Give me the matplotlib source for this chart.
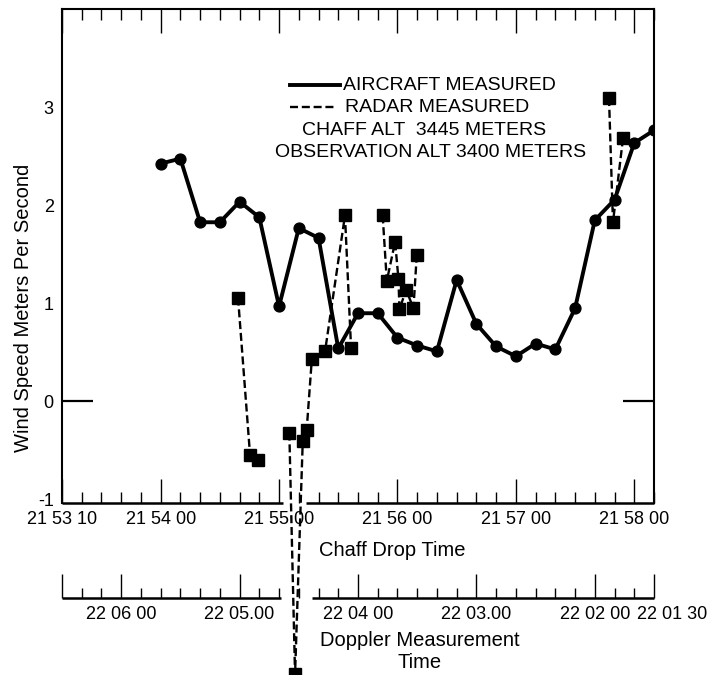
import numpy as np
import matplotlib
matplotlib.use("Agg")
import matplotlib.pyplot as plt
import matplotlib.transforms as mtransforms
from matplotlib.ticker import FixedLocator, FixedFormatter

plt.rcParams['font.family'] = ['Liberation Sans', 'DejaVu Sans']

# Time axis: seconds after 21:53:10 (chaff drop clock)
aircraft_time = [50, 60, 70, 80, 90, 100, 110, 120, 130, 140, 150, 160, 170,
                 180, 190, 200, 210, 220, 230, 240, 250, 260, 270, 280, 290, 300]
aircraft_speed = [2.43, 2.48, 1.83, 1.83, 2.04, 1.88, 0.97, 1.77, 1.67, 0.54,
                  0.90, 0.90, 0.65, 0.57, 0.51, 1.24, 0.79, 0.56, 0.46, 0.59,
                  0.53, 0.95, 1.85, 2.06, 2.64, 2.77]

radar_time = [89.2, 95.3, 99.2,
              115.2, 118.1, 122.0, 124.0, 126.6, 133.3, 143.4, 146.5,
              162.5, 164.6, 168.8, 170.5, 171.0, 174.4, 178.1, 179.8,
              277.2, 279.2, 284.3]
radar_speed = [1.06, -0.55, -0.60,
               -0.32, -2.79, -0.41, -0.29, 0.43, 0.51, 1.90, 0.54,
               1.90, 1.23, 1.63, 1.25, 0.94, 1.14, 0.95, 1.50,
               3.10, 1.83, 2.69]
radar_track = [0, 0, 0,
               1, 1, 1, 1, 1, 1, 1, 1,
               2, 2, 2, 2, 2, 2, 2, 2,
               3, 3, 3]

chaff_major = [0, 50, 110, 170, 230, 290]
chaff_labels = ["21 53 10", "21 54 00", "21 55 00", "21 56 00", "21 57 00", "21 58 00"]
doppler_major = [0, 30, 90, 150, 210, 270, 300]
doppler_labels = ["", "22 06 00", "22 05.00", "22 04 00", "22 03.00", "22 02 00", ""]
doppler_end_label = "22 01 30"
speed_ticks = [-1, 0, 1, 2, 3]
speed_labels = ["-1", "0", "1", "2", "3"]

W, H = 714, 675
fig = plt.figure(figsize=(W / 100, H / 100), dpi=100)

ax_l, ax_r, ax_b, ax_t = 62, 654, 503, 9
ax = fig.add_axes([ax_l / W, 1 - ax_b / H, (ax_r - ax_l) / W, (ax_b - ax_t) / H])
ax.set_xlim(0, 300)
ax.set_ylim(-1.04, 4.01)

dash = (0, (3.4, 1.6))

# aircraft trace
ax.plot(aircraft_time, aircraft_speed, '-o', color='black', lw=2.8, ms=7.8,
        zorder=3, solid_joinstyle='round')

# radar trace, one dashed run per track
t_arr = np.array(radar_time)
v_arr = np.array(radar_speed)
k_arr = np.array(radar_track)
for k in np.unique(k_arr):
    m = k_arr == k
    ax.plot(t_arr[m], v_arr[m], linestyle=dash, lw=1.7, marker='s', ms=8.5,
            color='black', clip_on=False, zorder=4)

# frame
for side in ('left', 'right', 'top'):
    ax.spines[side].set_linewidth(1.5)
ax.spines['bottom'].set_visible(False)
trans = mtransforms.blended_transform_factory(ax.transData, ax.transAxes)
for a, b in ((0, 112), (123.5, 300)):
    ax.plot([a, b], [0, 0], transform=trans, color='black', lw=1.8,
            clip_on=False, solid_capstyle='butt', zorder=5)

ax.xaxis.set_major_locator(FixedLocator(chaff_major))
ax.xaxis.set_major_formatter(FixedFormatter(chaff_labels))
ax.xaxis.set_minor_locator(FixedLocator(np.arange(0, 301, 10)))
ax.tick_params(axis='x', which='major', direction='in', length=17, width=1.0,
               top=True, bottom=True, labelsize=13, pad=5.5)
ax.tick_params(axis='x', which='minor', direction='in', length=8, width=1.0,
               top=True, bottom=True)

ax.yaxis.remove_overlapping_locs = False
ax.set_yticks(speed_ticks)
ax.set_yticklabels(speed_labels)
ax.yaxis.set_minor_locator(FixedLocator([0]))
ax.tick_params(axis='y', which='major', length=0, pad=6, labelsize=13)
ax.tick_params(axis='y', which='minor', direction='in', length=22, width=1.6,
               left=True, right=True)

# key
ax.plot([0.385, 0.4696], [0.846, 0.846], transform=ax.transAxes, color='black', lw=2.8)
ax.plot([0.385, 0.465], [0.8016, 0.8016], transform=ax.transAxes, color='black',
        lw=1.7, linestyle=dash)
ax.text(0.4747, 0.846, "AIRCRAFT MEASURED", transform=ax.transAxes, fontsize=14,
        va='center', ha='left')
ax.text(0.478, 0.8016, "RADAR MEASURED", transform=ax.transAxes, fontsize=14,
        va='center', ha='left')
ax.text(0.612, 0.755, "CHAFF ALT  3445 METERS", transform=ax.transAxes, fontsize=14,
        va='center', ha='center')
ax.text(0.6225, 0.7105, "OBSERVATION ALT 3400 METERS", transform=ax.transAxes,
        fontsize=14, va='center', ha='center')

# Doppler measurement time scale
dop_y = 598
ax2 = fig.add_axes([ax_l / W, 1 - dop_y / H, (ax_r - ax_l) / W, 1e-4])
ax2.set_xlim(0, 300)
ax2.patch.set_visible(False)
for s in ax2.spines.values():
    s.set_visible(False)
ax2.set_yticks([])
ax2.xaxis.set_major_locator(FixedLocator(doppler_major))
ax2.xaxis.set_major_formatter(FixedFormatter(doppler_labels))
ax2.xaxis.set_minor_locator(FixedLocator(np.arange(0, 301, 10)))
ax2.tick_params(axis='x', which='major', direction='in', length=17, width=1.0,
                labelsize=13, pad=5.5)
ax2.tick_params(axis='x', which='minor', direction='in', length=7, width=1.0)
trans2 = mtransforms.blended_transform_factory(ax2.transData, ax2.transAxes)
for a, b in ((0, 111), (126.5, 300)):
    ax2.plot([a, b], [0, 0], transform=trans2, color='black', lw=1.8,
             clip_on=False, solid_capstyle='butt')
ax2.annotate(doppler_end_label, xy=(300, 0), xycoords=trans2, xytext=(13, -5.5),
             textcoords='offset points', ha='center', va='top', fontsize=13)

# axis titles
fig.text(24 / W, 1 - 308 / H, "Wind Speed Meters Per Second", rotation=90,
         ha='center', va='center', fontsize=14.5)
fig.text(392 / W, 1 - 550 / H, "Chaff Drop Time", ha='center', va='center',
         fontsize=14.5)
fig.text(420 / W, 1 - 651 / H, "Doppler Measurement\nTime", ha='center',
         va='center', multialignment='center', linespacing=1.2, fontsize=14.5)

fig.savefig("out.png", dpi=100)
